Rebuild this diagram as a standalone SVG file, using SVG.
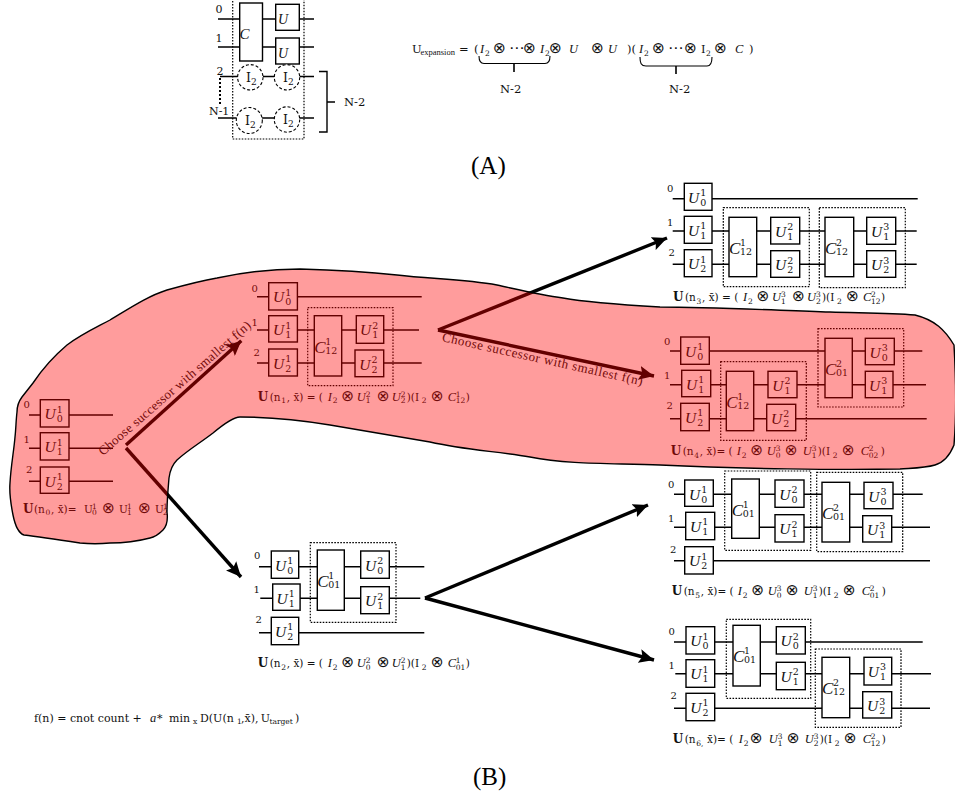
<svg xmlns="http://www.w3.org/2000/svg" width="955" height="797" viewBox="0 0 955 797">
<style>
text{font-family:"DejaVu Serif","Liberation Serif",serif;fill:#111}
.w{stroke:#000;stroke-width:1.4;fill:none}
.g rect,rect.g,.cc{fill:#fff;stroke:#000;stroke-width:1.4}
.dot{fill:none;stroke:#000;stroke-width:1.2;stroke-dasharray:1.6 1.4}
.u{font:italic 15.5px "Liberation Serif",serif}
.cl{font:italic 17px "Liberation Serif",serif}
.d{font-size:9.5px}
.l{font-size:10px}
.e{font-size:10.5px}
.b{font-weight:bold;font-size:12px}
.i{font:italic 12.5px "Liberation Serif",serif}
.s{font-size:7.5px}
.o{font:15.5px "DejaVu Sans",sans-serif}
.a{stroke:#000;stroke-width:3.4;fill:none}
.c{font:13px "Liberation Serif",serif}
.big{font:25px "Liberation Serif",serif;fill:#000}
.blob{fill:#f00;fill-opacity:.39;stroke:none}
.edge{fill:none;stroke:#000;stroke-width:1.4}
</style>
<defs>
<marker id="h" markerUnits="userSpaceOnUse" markerWidth="16" markerHeight="14" refX="15" refY="7" orient="auto"><path d="M0 0L15 7L0 14L3 7Z" fill="#000"/></marker>
</defs>

<g id="panel-a-circuit">
<path class="dot" d="M232.7 -2V139H304V-2"/>
<path class="w" d="M218 19H276M299 19H314M218 47H276M299 47H314M220 76.500H314M218 118H314M319 71.500H327V132H319M327 102H335"/>
<path d="M220 78V106" stroke="#000" stroke-width="2" stroke-dasharray="2 2" fill="none"/>
<rect class="cc" x="239.700" y="3" width="22.800" height="58"/>
<rect class="cc" x="275.700" y="4.300" width="23.600" height="26"/>
<rect class="cc" x="275.700" y="38" width="23.600" height="26"/>
<g fill="#fff" stroke="#000" stroke-width="1.100" stroke-dasharray="3 2">
<circle cx="250.300" cy="77.300" r="12.700"/><circle cx="287" cy="77.300" r="12.700"/><circle cx="249.300" cy="120.500" r="13"/><circle cx="287" cy="119.500" r="12.700"/>
</g>
<text class="u" x="239.500" y="39" style="font-size:15px">C</text>
<text class="u" x="278" y="24" style="font-size:14px">U</text>
<text class="u" x="278" y="58" style="font-size:14px">U</text>
<text class="l" x="215.500" y="12.500" style="font-size:11px">0</text>
<text class="l" x="215.500" y="42" style="font-size:11px">1</text>
<text class="l" x="216.500" y="75" style="font-size:11px">2</text>
<text class="l" x="209" y="115" style="font-size:11px">N-1</text>
<text class="l" x="344" y="106" style="font-size:11.500px">N-2</text>
<text x="246" y="82" style="font-size:12.500px">I<tspan class="s" dy="2.500" style="font-size:9px">2</tspan></text>
<text x="283" y="82" style="font-size:12.500px">I<tspan class="s" dy="2.500" style="font-size:9px">2</tspan></text>
<text x="245" y="125" style="font-size:12.500px">I<tspan class="s" dy="2.500" style="font-size:9px">2</tspan></text>
<text x="283" y="124" style="font-size:12.500px">I<tspan class="s" dy="2.500" style="font-size:9px">2</tspan></text>
</g>

<g id="panel-a-equation">
<text y="53" style="font-size:11.500px"><tspan x="412">U</tspan><tspan x="420.500" y="55" style="font:8.500px 'Liberation Serif',serif">expansion</tspan><tspan x="459" y="53">=</tspan><tspan x="474">(</tspan><tspan x="480" class="i">I</tspan><tspan x="485" y="56" class="s">2</tspan><tspan x="493" y="53" class="o">⊗</tspan><tspan x="509" class="o">⋯</tspan><tspan x="523" class="o">⊗</tspan><tspan x="540" class="i">I</tspan><tspan x="545" y="56" class="s">2</tspan><tspan x="549" y="53" class="o">⊗</tspan><tspan x="569" class="i">U</tspan><tspan x="591" class="o">⊗</tspan><tspan x="608" class="i">U</tspan><tspan x="627">)(</tspan><tspan x="639" class="i">I</tspan><tspan x="644" y="56" class="s">2</tspan><tspan x="652" y="53" class="o">⊗</tspan><tspan x="668" class="o">⋯</tspan><tspan x="684" class="o">⊗</tspan><tspan x="701">I</tspan><tspan x="706" y="56" class="s">2</tspan><tspan x="714" y="53" class="o">⊗</tspan><tspan x="735" class="i">C</tspan><tspan x="749">)</tspan></text>
<path class="w" style="stroke-width:1.100" d="M479 56C479 61 480 63.500 484 63.500H545C549 63.500 550 61 550 56M640 57C640 63 641 66 646 66H707C711 66 712 63 712 57"/>
<path class="w" d="M514 64V72M676 66V74" style="stroke-width:1.600"/>
<text x="500" y="93" style="font-size:11.500px">N-2</text>
<text x="669" y="93" style="font-size:11.500px">N-2</text>
</g>

<text id="label-a" class="big" x="471" y="174">(A)</text>
<text id="label-b" class="big" x="473" y="785">(B)</text>

<g id="connectors">
<path class="a" marker-end="url(#h)" d="M126 445L241.300 340.700"/>
<path class="a" marker-end="url(#h)" d="M126 448L241 577"/>
<path class="a" marker-end="url(#h)" d="M438 330L667 238"/>
<path class="a" marker-end="url(#h)" d="M438 330L654 376"/>
<path class="a" marker-end="url(#h)" d="M425 598L648 505"/>
<path class="a" marker-end="url(#h)" d="M425 598L654 660"/>
</g>
<text class="c" transform="translate(103 456) rotate(-41)" textLength="197" lengthAdjust="spacing">Choose successor with smallest f(n)</text>
<text class="c" transform="translate(441.500 341) rotate(12.500)" textLength="205" lengthAdjust="spacing">Choose successor with smallest f(n)</text>

<g id="n0">
<path class="w" d="M29 415H113M29 448.300H113M29 481.300H113"/>
<g class="g" transform="translate(40.300 399.700)"><rect width="28.700" height="27.300"/><text class="u" x="4.300" y="19.500">U</text><text class="d" x="16.500" y="13">1</text><text class="d" x="16.500" y="22.500">0</text></g>
<g class="g" transform="translate(40.300 432.700)"><rect width="28.700" height="27.300"/><text class="u" x="4.300" y="19.500">U</text><text class="d" x="16.500" y="13">1</text><text class="d" x="16.500" y="22.500">1</text></g>
<g class="g" transform="translate(40.300 467)"><rect width="28.700" height="26.300"/><text class="u" x="4.300" y="19.500">U</text><text class="d" x="16.500" y="13">1</text><text class="d" x="16.500" y="22.500">2</text></g>
<text class="l" x="23.500" y="408">0</text><text class="l" x="23.500" y="442.700">1</text><text class="l" x="26" y="472.700">2</text>
<text class="e" transform="translate(23 512.700)"><tspan class="b">U</tspan><tspan x="11">(n</tspan><tspan x="22.500" y="2.500" class="s">0</tspan><tspan x="28" y="0">, x̄)= </tspan><tspan x="61">U</tspan><tspan x="69" y="-4" class="s">1</tspan><tspan x="69" y="2.500" class="s">0</tspan><tspan x="79" y="0" class="o">⊗</tspan><tspan x="96">U</tspan><tspan x="104" y="-4" class="s">1</tspan><tspan x="104" y="2.500" class="s">1</tspan><tspan x="115" y="0" class="o">⊗</tspan><tspan x="132">U</tspan><tspan x="140" y="-4" class="s">1</tspan><tspan x="140" y="2.500" class="s">2</tspan></text>
</g>

<g id="n1">
<rect class="dot" x="307.700" y="307.700" width="85.300" height="78"/>
<path class="w" d="M257 296.700H421.700M257 330H419M257 363H421.700"/>
<g class="g" transform="translate(268.700 282.700)"><rect width="28.700" height="27.300"/><text class="u" x="4.300" y="19.500">U</text><text class="d" x="16.500" y="13">1</text><text class="d" x="16.500" y="22.500">0</text></g>
<g class="g" transform="translate(268.700 315.700)"><rect width="28.700" height="26.300"/><text class="u" x="4.300" y="19.500">U</text><text class="d" x="16.500" y="13">1</text><text class="d" x="16.500" y="22.500">1</text></g>
<g class="g" transform="translate(268.700 349)"><rect width="28.700" height="27"/><text class="u" x="4.300" y="19.500">U</text><text class="d" x="16.500" y="13">1</text><text class="d" x="16.500" y="22.500">2</text></g>
<g class="g" transform="translate(314.300 315.700)"><rect width="27.400" height="60.300"/><text class="cl" x="0" y="37">C</text><text class="d" x="11" y="29">1</text><text class="d" x="11" y="38">12</text></g>
<g class="g" transform="translate(356.300 315.700)"><rect width="27.400" height="27.600"/><text class="u" x="3.800" y="19.500">U</text><text class="d" x="16" y="13">2</text><text class="d" x="16" y="22.500">1</text></g>
<g class="g" transform="translate(355 350)"><rect width="28.700" height="26.700"/><text class="u" x="4.300" y="19.500">U</text><text class="d" x="16.500" y="13">2</text><text class="d" x="16.500" y="22.500">2</text></g>
<text class="l" x="251.500" y="291.700">0</text><text class="l" x="251.500" y="325.700">1</text><text class="l" x="253.500" y="355.700">2</text>
<text class="e" transform="translate(257.700 400.700)"><tspan class="b">U</tspan><tspan x="12">(n</tspan><tspan x="23.500" y="2.500" class="s">1</tspan><tspan x="29" y="0">, x̄) = (</tspan><tspan x="70" class="i">I</tspan><tspan x="75" y="2.500" class="s">2</tspan><tspan x="83.500" y="0" class="o">⊗</tspan><tspan x="99" class="i">U</tspan><tspan x="108" y="-4" class="s">2</tspan><tspan x="108" y="2.500" class="s">1</tspan><tspan x="119" y="0" class="o">⊗</tspan><tspan x="134" class="i">U</tspan><tspan x="143" y="-4" class="s">2</tspan><tspan x="143" y="2.500" class="s">2</tspan><tspan x="149" y="0">)(I</tspan><tspan x="164" y="2.500" class="s">2</tspan><tspan x="173" y="0" class="o">⊗</tspan><tspan x="190" class="i">C</tspan><tspan x="198" y="-4" class="s">1</tspan><tspan x="198" y="2.500" class="s">12</tspan><tspan x="208" y="0">)</tspan></text>
</g>

<g id="n2">
<rect class="dot" x="310.300" y="542.700" width="85.700" height="79.600"/>
<path class="w" d="M259 566.700H424.300M260.300 598.300H420.300M259 632.700H424.300"/>
<g class="g" transform="translate(271.300 551)"><rect width="27.400" height="27.300"/><text class="u" x="3.800" y="19.500">U</text><text class="d" x="16" y="13">1</text><text class="d" x="16" y="22.500">0</text></g>
<g class="g" transform="translate(272.700 584)"><rect width="27.400" height="26.300"/><text class="u" x="3.800" y="19.500">U</text><text class="d" x="16" y="13">1</text><text class="d" x="16" y="22.500">1</text></g>
<g class="g" transform="translate(271.300 617.300)"><rect width="27.400" height="27.400"/><text class="u" x="3.800" y="19.500">U</text><text class="d" x="16" y="13">1</text><text class="d" x="16" y="22.500">2</text></g>
<g class="g" transform="translate(317.300 550)"><rect width="27" height="60.300"/><text class="cl" x="0" y="37">C</text><text class="d" x="11" y="29">1</text><text class="d" x="11" y="38">01</text></g>
<g class="g" transform="translate(360.700 551)"><rect width="28.600" height="27.300"/><text class="u" x="4.300" y="19.500">U</text><text class="d" x="16.500" y="13">2</text><text class="d" x="16.500" y="22.500">0</text></g>
<g class="g" transform="translate(360.700 586.700)"><rect width="28.600" height="27"/><text class="u" x="4.300" y="19.500">U</text><text class="d" x="16.500" y="13">2</text><text class="d" x="16.500" y="22.500">1</text></g>
<text class="l" x="254" y="559.300">0</text><text class="l" x="253.500" y="593.300">1</text><text class="l" x="255.500" y="623.300">2</text>
<text class="e" transform="translate(257.700 667)"><tspan class="b">U</tspan><tspan x="12">(n</tspan><tspan x="23.500" y="2.500" class="s">2</tspan><tspan x="29" y="0">, x̄) = (</tspan><tspan x="70" class="i">I</tspan><tspan x="75" y="2.500" class="s">2</tspan><tspan x="83.500" y="0" class="o">⊗</tspan><tspan x="99" class="i">U</tspan><tspan x="108" y="-4" class="s">2</tspan><tspan x="108" y="2.500" class="s">0</tspan><tspan x="119" y="0" class="o">⊗</tspan><tspan x="134" class="i">U</tspan><tspan x="143" y="-4" class="s">2</tspan><tspan x="143" y="2.500" class="s">1</tspan><tspan x="149" y="0">)(I</tspan><tspan x="164" y="2.500" class="s">2</tspan><tspan x="173" y="0" class="o">⊗</tspan><tspan x="190" class="i">C</tspan><tspan x="198" y="-4" class="s">1</tspan><tspan x="198" y="2.500" class="s">01</tspan><tspan x="208" y="0">)</tspan></text>
</g>

<g id="n3">
<rect class="dot" x="723.300" y="207.700" width="86" height="79"/>
<rect class="dot" x="819.300" y="207.700" width="86" height="80"/>
<path class="w" d="M672.700 198.700H917.700M672.700 231H916.700M672.700 264.300H916.700"/>
<g class="g" transform="translate(684.300 183.300)"><rect width="27.700" height="27"/><text class="u" x="3.800" y="19.500">U</text><text class="d" x="16" y="13">1</text><text class="d" x="16" y="22.500">0</text></g>
<g class="g" transform="translate(684.300 216.300)"><rect width="27.700" height="27"/><text class="u" x="3.800" y="19.500">U</text><text class="d" x="16" y="13">1</text><text class="d" x="16" y="22.500">1</text></g>
<g class="g" transform="translate(684.300 249.700)"><rect width="27.700" height="27"/><text class="u" x="3.800" y="19.500">U</text><text class="d" x="16" y="13">1</text><text class="d" x="16" y="22.500">2</text></g>
<g class="g" transform="translate(729 217.300)"><rect width="27.700" height="59.400"/><text class="cl" x="0" y="37">C</text><text class="d" x="11" y="29">1</text><text class="d" x="11" y="38">12</text></g>
<g class="g" transform="translate(770.700 217.300)"><rect width="29" height="26.700"/><text class="u" x="4.300" y="19.500">U</text><text class="d" x="16.500" y="13">2</text><text class="d" x="16.500" y="22.500">1</text></g>
<g class="g" transform="translate(770.700 250.700)"><rect width="29" height="26.600"/><text class="u" x="4.300" y="19.500">U</text><text class="d" x="16.500" y="13">2</text><text class="d" x="16.500" y="22.500">2</text></g>
<g class="g" transform="translate(825 217.300)"><rect width="28.700" height="59.400"/><text class="cl" x="0" y="37">C</text><text class="d" x="11" y="29">2</text><text class="d" x="11" y="38">12</text></g>
<g class="g" transform="translate(866.700 217.300)"><rect width="29" height="27"/><text class="u" x="4.300" y="19.500">U</text><text class="d" x="16.500" y="13">3</text><text class="d" x="16.500" y="22.500">1</text></g>
<g class="g" transform="translate(866.700 250.700)"><rect width="29" height="26.600"/><text class="u" x="4.300" y="19.500">U</text><text class="d" x="16.500" y="13">3</text><text class="d" x="16.500" y="22.500">2</text></g>
<text class="l" x="667" y="191.700">0</text><text class="l" x="667" y="226">1</text><text class="l" x="668.500" y="256">2</text>
<text class="e" transform="translate(673 301)"><tspan class="b">U</tspan><tspan x="12">(n</tspan><tspan x="23.500" y="2.500" class="s">3</tspan><tspan x="29" y="0">, x̄) = (</tspan><tspan x="70" class="i">I</tspan><tspan x="75" y="2.500" class="s">2</tspan><tspan x="83.500" y="0" class="o">⊗</tspan><tspan x="99" class="i">U</tspan><tspan x="108" y="-4" class="s">3</tspan><tspan x="108" y="2.500" class="s">1</tspan><tspan x="119" y="0" class="o">⊗</tspan><tspan x="134" class="i">U</tspan><tspan x="143" y="-4" class="s">3</tspan><tspan x="143" y="2.500" class="s">2</tspan><tspan x="149" y="0">)(I</tspan><tspan x="164" y="2.500" class="s">2</tspan><tspan x="173" y="0" class="o">⊗</tspan><tspan x="190" class="i">C</tspan><tspan x="198" y="-4" class="s">2</tspan><tspan x="198" y="2.500" class="s">12</tspan><tspan x="208" y="0">)</tspan></text>
</g>

<g id="n4">
<rect class="dot" x="720.700" y="361.700" width="85.600" height="78.600"/>
<rect class="dot" x="818" y="328.700" width="85.700" height="78.300"/>
<path class="w" d="M670 351H922.300M670 384.700H926M670 418.700H926.700"/>
<g class="g" transform="translate(680.700 337)"><rect width="28.600" height="27.300"/><text class="u" x="4.300" y="19.500">U</text><text class="d" x="16.500" y="13">1</text><text class="d" x="16.500" y="22.500">0</text></g>
<g class="g" transform="translate(681.700 370.300)"><rect width="29" height="26.400"/><text class="u" x="4.300" y="19.500">U</text><text class="d" x="16.500" y="13">1</text><text class="d" x="16.500" y="22.500">1</text></g>
<g class="g" transform="translate(680.700 403.300)"><rect width="28.600" height="27.400"/><text class="u" x="4.300" y="19.500">U</text><text class="d" x="16.500" y="13">1</text><text class="d" x="16.500" y="22.500">2</text></g>
<g class="g" transform="translate(726.300 371.300)"><rect width="27.400" height="59.400"/><text class="cl" x="0" y="37">C</text><text class="d" x="11" y="29">1</text><text class="d" x="11" y="38">12</text></g>
<g class="g" transform="translate(768 371.300)"><rect width="29" height="26.400"/><text class="u" x="4.300" y="19.500">U</text><text class="d" x="16.500" y="13">2</text><text class="d" x="16.500" y="22.500">1</text></g>
<g class="g" transform="translate(766.700 404.300)"><rect width="29" height="26.400"/><text class="u" x="4.300" y="19.500">U</text><text class="d" x="16.500" y="13">2</text><text class="d" x="16.500" y="22.500">2</text></g>
<g class="g" transform="translate(825 338.300)"><rect width="27.300" height="59.400"/><text class="cl" x="0" y="37">C</text><text class="d" x="11" y="29">2</text><text class="d" x="11" y="38">01</text></g>
<g class="g" transform="translate(865.300 338.300)"><rect width="29" height="26.400"/><text class="u" x="4.300" y="19.500">U</text><text class="d" x="16.500" y="13">3</text><text class="d" x="16.500" y="22.500">0</text></g>
<g class="g" transform="translate(865.300 371.300)"><rect width="27.700" height="26.400"/><text class="u" x="3.800" y="19.500">U</text><text class="d" x="16" y="13">3</text><text class="d" x="16" y="22.500">1</text></g>
<text class="l" x="664" y="345">0</text><text class="l" x="664" y="379">1</text><text class="l" x="666.500" y="409">2</text>
<text class="e" transform="translate(670.700 455)"><tspan class="b">U</tspan><tspan x="12">(n</tspan><tspan x="23.500" y="2.500" class="s">4</tspan><tspan x="29" y="0">, x̄)= (</tspan><tspan x="66" class="i">I</tspan><tspan x="71" y="2.500" class="s">2</tspan><tspan x="79.500" y="0" class="o">⊗</tspan><tspan x="96" class="i">U</tspan><tspan x="105" y="-4" class="s">3</tspan><tspan x="105" y="2.500" class="s">0</tspan><tspan x="114" y="0" class="o">⊗</tspan><tspan x="132" class="i">U</tspan><tspan x="141" y="-4" class="s">3</tspan><tspan x="141" y="2.500" class="s">1</tspan><tspan x="147" y="0">)(I</tspan><tspan x="162" y="2.500" class="s">2</tspan><tspan x="171" y="0" class="o">⊗</tspan><tspan x="190" class="i">C</tspan><tspan x="198" y="-4" class="s">2</tspan><tspan x="198" y="2.500" class="s">02</tspan><tspan x="210" y="0">)</tspan></text>
</g>

<g id="n5">
<rect class="dot" x="724.700" y="471" width="86" height="79.300"/>
<rect class="dot" x="816.700" y="472.300" width="86" height="79.400"/>
<path class="w" d="M674 494.300H922.700M674 527.300H930M674 560.700H930"/>
<g class="g" transform="translate(684.700 480)"><rect width="28.600" height="26.300"/><text class="u" x="4.300" y="19.500">U</text><text class="d" x="16.500" y="13">1</text><text class="d" x="16.500" y="22.500">0</text></g>
<g class="g" transform="translate(685.700 512.300)"><rect width="29" height="27.400"/><text class="u" x="4.300" y="19.500">U</text><text class="d" x="16.500" y="13">1</text><text class="d" x="16.500" y="22.500">1</text></g>
<g class="g" transform="translate(684.700 546.700)"><rect width="28.600" height="27.300"/><text class="u" x="4.300" y="19.500">U</text><text class="d" x="16.500" y="13">1</text><text class="d" x="16.500" y="22.500">2</text></g>
<g class="g" transform="translate(731.700 479)"><rect width="27.600" height="59.300"/><text class="cl" x="0" y="37">C</text><text class="d" x="11" y="29">1</text><text class="d" x="11" y="38">01</text></g>
<g class="g" transform="translate(775 480)"><rect width="29" height="27.300"/><text class="u" x="4.300" y="19.500">U</text><text class="d" x="16.500" y="13">2</text><text class="d" x="16.500" y="22.500">0</text></g>
<g class="g" transform="translate(775 514.700)"><rect width="29" height="27.300"/><text class="u" x="4.300" y="19.500">U</text><text class="d" x="16.500" y="13">2</text><text class="d" x="16.500" y="22.500">1</text></g>
<g class="g" transform="translate(822 482.300)"><rect width="27.700" height="59.700"/><text class="cl" x="0" y="37">C</text><text class="d" x="11" y="29">2</text><text class="d" x="11" y="38">01</text></g>
<g class="g" transform="translate(864 482.300)"><rect width="29" height="26.400"/><text class="u" x="4.300" y="19.500">U</text><text class="d" x="16.500" y="13">3</text><text class="d" x="16.500" y="22.500">0</text></g>
<g class="g" transform="translate(862.700 515.700)"><rect width="29" height="26.300"/><text class="u" x="4.300" y="19.500">U</text><text class="d" x="16.500" y="13">3</text><text class="d" x="16.500" y="22.500">1</text></g>
<text class="l" x="668" y="487.700">0</text><text class="l" x="668" y="522.300">1</text><text class="l" x="670" y="552.700">2</text>
<text class="e" transform="translate(671.700 595)"><tspan class="b">U</tspan><tspan x="12">(n</tspan><tspan x="23.500" y="2.500" class="s">5</tspan><tspan x="29" y="0">, x̄)= (</tspan><tspan x="66" class="i">I</tspan><tspan x="71" y="2.500" class="s">2</tspan><tspan x="79.500" y="0" class="o">⊗</tspan><tspan x="96" class="i">U</tspan><tspan x="105" y="-4" class="s">3</tspan><tspan x="105" y="2.500" class="s">0</tspan><tspan x="114" y="0" class="o">⊗</tspan><tspan x="132" class="i">U</tspan><tspan x="141" y="-4" class="s">3</tspan><tspan x="141" y="2.500" class="s">1</tspan><tspan x="147" y="0">)(I</tspan><tspan x="162" y="2.500" class="s">2</tspan><tspan x="171" y="0" class="o">⊗</tspan><tspan x="190" class="i">C</tspan><tspan x="198" y="-4" class="s">2</tspan><tspan x="198" y="2.500" class="s">01</tspan><tspan x="210" y="0">)</tspan></text>
</g>

<g id="n6">
<rect class="dot" x="726.300" y="619.300" width="84.400" height="79"/>
<rect class="dot" x="815.300" y="649" width="85.700" height="78.300"/>
<path class="w" d="M674 642H922.700M675.300 673.700H931M674 708.300H930"/>
<g class="g" transform="translate(686 626.700)"><rect width="28.700" height="27.300"/><text class="u" x="4.300" y="19.500">U</text><text class="d" x="16.500" y="13">1</text><text class="d" x="16.500" y="22.500">0</text></g>
<g class="g" transform="translate(686 659.700)"><rect width="28.700" height="27.600"/><text class="u" x="4.300" y="19.500">U</text><text class="d" x="16.500" y="13">1</text><text class="d" x="16.500" y="22.500">1</text></g>
<g class="g" transform="translate(686 693.300)"><rect width="28.700" height="27.400"/><text class="u" x="4.300" y="19.500">U</text><text class="d" x="16.500" y="13">1</text><text class="d" x="16.500" y="22.500">2</text></g>
<g class="g" transform="translate(733 625.300)"><rect width="27.300" height="60.700"/><text class="cl" x="0" y="37">C</text><text class="d" x="11" y="29">1</text><text class="d" x="11" y="38">01</text></g>
<g class="g" transform="translate(776.300 626.700)"><rect width="29" height="27.300"/><text class="u" x="4.300" y="19.500">U</text><text class="d" x="16.500" y="13">2</text><text class="d" x="16.500" y="22.500">0</text></g>
<g class="g" transform="translate(776.300 662.300)"><rect width="29" height="27.400"/><text class="u" x="4.300" y="19.500">U</text><text class="d" x="16.500" y="13">2</text><text class="d" x="16.500" y="22.500">1</text></g>
<g class="g" transform="translate(822 657.300)"><rect width="27.700" height="60.400"/><text class="cl" x="0" y="37">C</text><text class="d" x="11" y="29">2</text><text class="d" x="11" y="38">12</text></g>
<g class="g" transform="translate(864 657.300)"><rect width="27.700" height="27.700"/><text class="u" x="3.800" y="19.500">U</text><text class="d" x="16" y="13">3</text><text class="d" x="16" y="22.500">1</text></g>
<g class="g" transform="translate(862.700 691.700)"><rect width="29" height="26.300"/><text class="u" x="4.300" y="19.500">U</text><text class="d" x="16.500" y="13">3</text><text class="d" x="16.500" y="22.500">2</text></g>
<text class="l" x="668.500" y="635">0</text><text class="l" x="668.500" y="669.300">1</text><text class="l" x="670.500" y="699.300">2</text>
<text class="e" transform="translate(672.700 743)"><tspan class="b">U</tspan><tspan x="12">(n</tspan><tspan x="23.500" y="2.500" class="s">6,</tspan><tspan x="31" y="0"> x̄)= (</tspan><tspan x="66" class="i">I</tspan><tspan x="71" y="2.500" class="s">2</tspan><tspan x="77" y="0" class="o">⊗</tspan><tspan x="96" class="i">U</tspan><tspan x="105" y="-4" class="s">3</tspan><tspan x="105" y="2.500" class="s">1</tspan><tspan x="114" y="0" class="o">⊗</tspan><tspan x="132" class="i">U</tspan><tspan x="141" y="-4" class="s">3</tspan><tspan x="141" y="2.500" class="s">2</tspan><tspan x="147" y="0">)(I</tspan><tspan x="162" y="2.500" class="s">2</tspan><tspan x="171" y="0" class="o">⊗</tspan><tspan x="190" class="i">C</tspan><tspan x="198" y="-4" class="s">2</tspan><tspan x="198" y="2.500" class="s">12</tspan><tspan x="209" y="0">)</tspan></text>
</g>

<text id="cost" y="721.700" style="font-size:11px"><tspan x="34">f(n) = cnot count + </tspan><tspan x="150" class="i">a</tspan><tspan x="157">*</tspan><tspan x="169">min</tspan><tspan x="193" y="724" class="s">x</tspan><tspan x="200" y="721.700">D(U(n</tspan><tspan x="237" y="724" class="s">1</tspan><tspan x="241" y="721.700">,x̄),</tspan><tspan x="260.700">U</tspan><tspan x="269.500" y="724" class="s">target</tspan><tspan x="295" y="721.700">)</tspan></text>

<g id="highlight">
<path id="blob-fill" class="blob" d="M17 412C17 405 19 401 22 397L33 383C43 368 54 356 67 345C80 335 95 328 110 320C130 308 148 296 167 290C185 285 200 281 217 278C245 272 270 269 300 269C340 270 370 272 397 275C430 279 465 279 497 285C520 290 540 295 563 298C590 303 625 305 660 307C710 307 770 310 830 312C860 313 890 313 915 315C935 320 945 330 954 345C956 380 956 420 954 445C950 455 945 462 935 465C925 468 915 468 900 469C840 470 740 469 660 465C615 463 570 465 530 457C495 451 465 450 430 442C395 436 360 430 330 425C300 420 270 417 240 417C235 417 225 423 213 433C200 443 188 450 177 460C172 465 170 470 169 478C168 490 167 500 167 512C168 520 167 526 163 530C158 535 155 537 150 538C135 542 125 543 110 543C100 544 90 544 80 543C60 540 40 537 24 535C18 533 15 525 13 515C11 505 9 495 10 483C11 465 14 450 15 437C16 428 16 420 17 412Z"/>
<path id="blob-edge" class="edge" d="M17 412C17 405 19 401 22 397L33 383C43 368 54 356 67 345C80 335 95 328 110 320C130 308 148 296 167 290C185 285 200 281 217 278C245 272 270 269 300 269C340 270 370 272 397 275C430 279 465 279 497 285C520 290 540 295 563 298C590 303 625 305 660 307C710 307 770 310 830 312C860 313 890 313 915 315C935 320 945 330 954 345C956 380 956 420 954 445C950 455 945 462 935 465C925 468 915 468 900 469C840 470 740 469 660 465C615 463 570 465 530 457C495 451 465 450 430 442C395 436 360 430 330 425C300 420 270 417 240 417C235 417 225 423 213 433C200 443 188 450 177 460C172 465 170 470 169 478C168 490 167 500 167 512C168 520 167 526 163 530C158 535 155 537 150 538C135 542 125 543 110 543C100 544 90 544 80 543C60 540 40 537 24 535C18 533 15 525 13 515C11 505 9 495 10 483C11 465 14 450 15 437C16 428 16 420 17 412Z"/>
</g>
</svg>
